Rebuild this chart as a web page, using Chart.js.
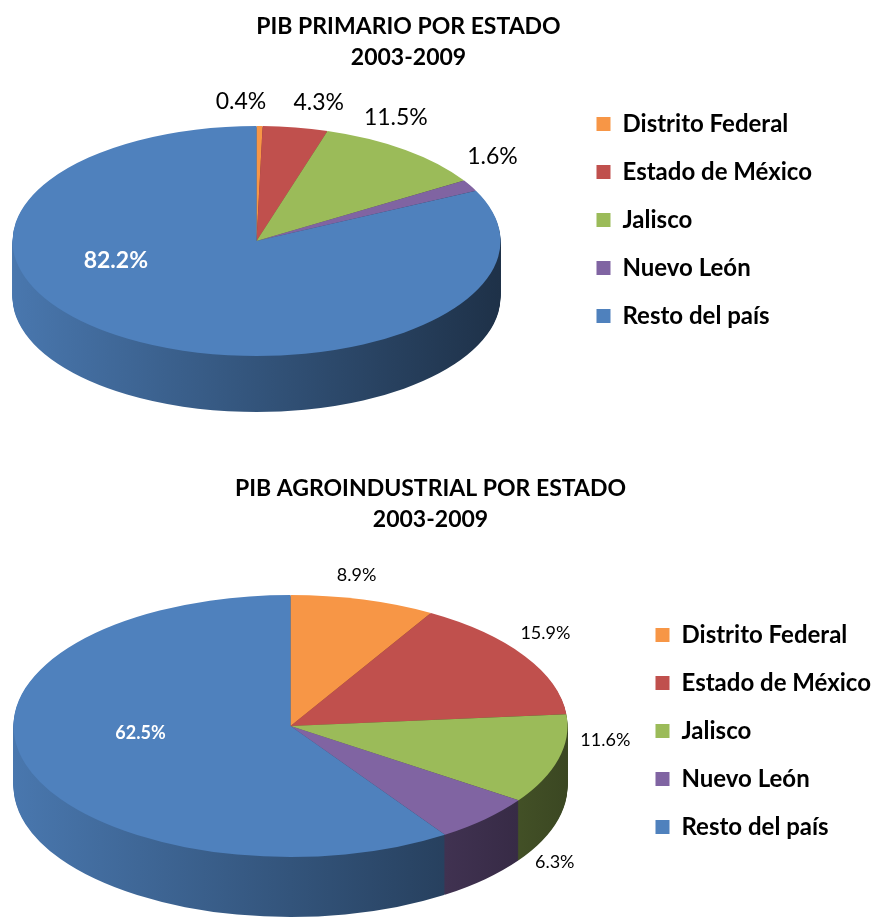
<!DOCTYPE html>
<html><head><meta charset="utf-8">
<script src="https://cdn.jsdelivr.net/npm/chart.js@4.4.1/dist/chart.umd.min.js"></script>
<style>
html,body{margin:0;padding:0;background:#fff;}
body{width:877px;height:917px;overflow:hidden;position:relative;}
.wrap{position:absolute;}
</style></head><body>
<div class="wrap" id="w1"><canvas id="c1"></canvas></div>
<div class="wrap" id="w2"><canvas id="c2"></canvas></div>
<script>
// ---------------- data ----------------
const categories = ['Distrito Federal', 'Estado de México', 'Jalisco', 'Nuevo León', 'Resto del país'];
const primarioValues = [0.4, 4.3, 11.5, 1.6, 82.2];
const agroindustrialValues = [8.9, 15.9, 11.6, 6.3, 62.5];
const primarioTitle = ['PIB PRIMARIO POR ESTADO', '2003-2009'];
const agroindustrialTitle = ['PIB AGROINDUSTRIAL POR ESTADO', '2003-2009'];
const sliceColors = ['#F79646', '#C0504D', '#9BBB59', '#8064A2', '#4F81BD'];

// ---------------- helpers ----------------
const FONT = 'Lato';
const LEGEND_SIZE = 24;
Chart.defaults.font.family = FONT;
Chart.defaults.color = '#000';

function shade(hex, f) {
  const n = parseInt(hex.slice(1), 16);
  const r = (n >> 16) & 255, g = (n >> 8) & 255, b = n & 255;
  return 'rgb(' + Math.round(r * f) + ',' + Math.round(g * f) + ',' + Math.round(b * f) + ')';
}
function maxTextWidth(font, texts) {
  const c = document.createElement('canvas').getContext('2d');
  c.font = font;
  return Math.max(...texts.map(t => c.measureText(t).width));
}

// 3D-looking pie: squash the library's arcs into an ellipse and stack darker copies for the side wall
const pie3d = {
  id: 'pie3d',
  beforeDatasetsDraw(chart, args, o) {
    const arcs = chart.getDatasetMeta(0).data;
    const a0 = arcs[0];
    const cx = a0.x, cy = a0.y, R = a0.outerRadius;
    const tcx = o.cx - o.offsetX, tcy = o.cy - o.offsetY;
    const sx = o.rx / R, sy = o.ry / R;
    chart.$pie3d = {tcx, tcy};
    const ctx = chart.ctx;
    ctx.save();
    ctx.translate(tcx, tcy);
    ctx.scale(sx, sy);
    ctx.translate(-cx, -cy);
    const colors = chart.data.datasets[0].backgroundColor;
    const grads = colors.map(c => {
      const g = ctx.createLinearGradient(cx - R, 0, cx + R, 0);
      g.addColorStop(0, shade(c, o.shadeLeft));
      g.addColorStop(0.5, shade(c, (o.shadeLeft + o.shadeRight) / 2));
      g.addColorStop(1, shade(c, o.shadeRight));
      return g;
    });
    for (let d = o.depth; d >= 1; d--) {
      ctx.save();
      ctx.translate(0, d / sy);
      arcs.forEach((arc, i) => {
        const ghost = Object.create(arc);
        ghost.options = Object.assign({}, arc.options, {backgroundColor: grads[i], borderWidth: 0});
        ghost.draw(ctx);
      });
      ctx.restore();
    }
  },
  afterDatasetsDraw(chart, args, o) {
    const ctx = chart.ctx;
    ctx.restore();
    const arcs = chart.getDatasetMeta(0).data;
    const vals = chart.data.datasets[0].data;
    const maxI = vals.indexOf(Math.max(...vals));
    const {tcx, tcy} = chart.$pie3d;
    ctx.save();
    ctx.textAlign = 'center';
    ctx.textBaseline = 'middle';
    arcs.forEach((arc, i) => {
      const mid = (arc.startAngle + arc.endAngle) / 2;
      const c = Math.cos(mid), s = Math.sin(mid);
      const txt = vals[i].toFixed(1) + '%';
      const nd = o.nudges[i] || [0, 0];
      let x, y;
      if (i === maxI) {
        ctx.font = 'bold ' + o.labelSize + 'px ' + FONT;
        ctx.fillStyle = '#fff';
        x = tcx + o.rx * o.insideF * c;
        y = tcy + o.ry * o.insideF * s;
      } else {
        ctx.font = o.labelSize + 'px ' + FONT;
        ctx.fillStyle = '#000';
        const w = ctx.measureText(txt).width, h = o.labelSize * 0.72;
        x = tcx + o.rx * c + c * (o.gap + w / 2);
        y = tcy + o.ry * s + s * (o.gap + h / 2) + (s > 0 ? o.depth * s : 0);
      }
      ctx.fillText(txt, x + nd[0], y + nd[1]);
    });
    ctx.restore();
  }
};

function buildChart(canvasId, wrapId, values, title, lay) {
  const legendFont = {family: FONT, size: LEGEND_SIZE, weight: 'bold'};
  const tw = maxTextWidth('bold ' + LEGEND_SIZE + 'px ' + FONT, categories);
  // legend text right = L + W - 10 ; legend text left = right - tw
  const W = 2 * (lay.legendTextX + tw + 10 - lay.titleCenter);
  const L = lay.titleCenter - W / 2;
  const wrap = document.getElementById(wrapId);
  wrap.style.left = L + 'px';
  wrap.style.top = lay.top + 'px';
  wrap.style.width = W + 'px';
  wrap.style.height = lay.height + 'px';
  return new Chart(document.getElementById(canvasId), {
    type: 'pie',
    data: {
      labels: categories,
      datasets: [{data: values, backgroundColor: sliceColors, borderWidth: 0, clip: false}]
    },
    options: {
      responsive: true,
      maintainAspectRatio: false,
      animation: false,
      events: [],
      layout: {padding: {left: 0, right: 0, top: 0, bottom: lay.padBottom}},
      plugins: {
        title: {
          display: true,
          text: title,
          color: '#000',
          font: {family: FONT, size: 23, weight: 'bold', lineHeight: '31px'},
          padding: {top: 11, bottom: 10}
        },
        legend: {
          position: 'right',
          align: 'center',
          labels: {boxWidth: 14, boxHeight: 14, padding: 48 - LEGEND_SIZE, color: '#000', font: legendFont}
        },
        tooltip: {enabled: false},
        pie3d: Object.assign({offsetX: L, offsetY: lay.top}, lay.pie)
      }
    },
    plugins: [pie3d]
  });
}

buildChart('c1', 'w1', primarioValues, primarioTitle, {
  top: 0, height: 450, titleCenter: 408, legendTextX: 622, padBottom: 10,
  pie: {cx: 256, cy: 241, rx: 244, ry: 115, depth: 56, shadeLeft: 0.92, shadeRight: 0.38,
        labelSize: 23, gap: 8, insideF: 0.6,
        nudges: [[-19, -8], [18, -9], [-34, -19], [-7, -21], [-63, -39]]}
});
buildChart('c2', 'w2', agroindustrialValues, agroindustrialTitle, {
  top: 462, height: 550, titleCenter: 430, legendTextX: 681, padBottom: 12,
  pie: {cx: 290, cy: 726, rx: 277, ry: 131, depth: 60, shadeLeft: 0.92, shadeRight: 0.38,
        labelSize: 18, gap: 8, insideF: 0.6,
        nudges: [[-14, -10], [-7, -15], [15, -38], [50, -10], [9, -16]]}
});
</script>
</body></html>
